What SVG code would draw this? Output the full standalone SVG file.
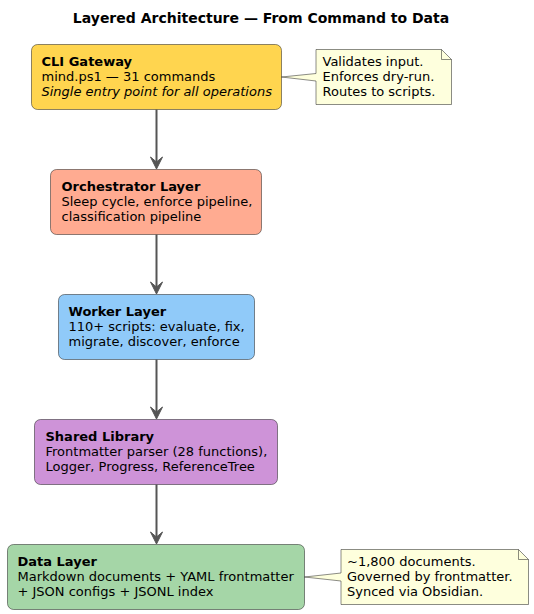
<svg xmlns="http://www.w3.org/2000/svg" width="534" height="614" viewBox="0 0 534 614">
<style>
text{font-family:"DejaVu Sans","Liberation Sans",sans-serif;font-size:13px;fill:#000}
.title{font-size:14px;font-weight:bold}
.b{font-weight:bold}
.i{font-style:italic}
.box{stroke:#181818;stroke-width:0.5}
.note{fill:#FEFFDD;stroke:#181818;stroke-width:0.5}
.fold{fill:none;stroke:#181818;stroke-width:0.5}
.edge{stroke:#555555;stroke-width:2;fill:none}
.head{fill:#555555;stroke:#555555;stroke-width:1}
</style>
<rect width="534" height="614" fill="#FFFFFF"/>
<text class="title" x="261" y="23" text-anchor="middle">Layered Architecture — From Command to Data</text>

<g id="connectors">
<line class="edge" x1="156.5" y1="109.5" x2="156.5" y2="163"/>
<polygon class="head" points="150.5,157 156.5,169 162.5,157 156.5,162"/>
<line class="edge" x1="156.5" y1="234.5" x2="156.5" y2="288"/>
<polygon class="head" points="150.5,282 156.5,294 162.5,282 156.5,287"/>
<line class="edge" x1="156.5" y1="359.5" x2="156.5" y2="413"/>
<polygon class="head" points="150.5,407 156.5,419 162.5,407 156.5,412"/>
<line class="edge" x1="156.5" y1="484.5" x2="156.5" y2="538"/>
<polygon class="head" points="150.5,532 156.5,544 162.5,532 156.5,537"/>
</g>

<g id="cli">
<rect class="box" x="31.5" y="44.5" width="250" height="65" rx="6" fill="#FFD54F"/>
<text x="41.5" y="66" class="b">CLI Gateway</text>
<text x="41.5" y="81">mind.ps1 — 31 commands</text>
<text x="41.5" y="96" class="i">Single entry point for all operations</text>
</g>

<g id="note-cli">
<path class="note" d="M316,49.5 L441.5,49.5 L451.5,59.5 L451.5,104.5 L316,104.5 L316,81 L281.5,77 L316,73.5 Z"/>
<path class="fold" d="M441.5,49.5 L441.5,59.5 L451.5,59.5"/>
<text x="322.5" y="66">Validates input.</text>
<text x="322.5" y="81">Enforces dry-run.</text>
<text x="322.5" y="96">Routes to scripts.</text>
</g>

<g id="orchestrator">
<rect class="box" x="50.5" y="169.5" width="211" height="65" rx="6" fill="#FFAB91"/>
<text x="61.5" y="191" class="b">Orchestrator Layer</text>
<text x="61.5" y="206">Sleep cycle, enforce pipeline,</text>
<text x="61.5" y="221">classification pipeline</text>
</g>

<g id="worker">
<rect class="box" x="58.5" y="294.5" width="196" height="65" rx="6" fill="#90CAF9"/>
<text x="68.5" y="316" class="b">Worker Layer</text>
<text x="68.5" y="331">110+ scripts: evaluate, fix,</text>
<text x="68.5" y="346">migrate, discover, enforce</text>
</g>

<g id="shared">
<rect class="box" x="34.5" y="419.5" width="243" height="65" rx="6" fill="#CE93D8"/>
<text x="45.5" y="441" class="b">Shared Library</text>
<text x="45.5" y="456">Frontmatter parser (28 functions),</text>
<text x="45.5" y="471">Logger, Progress, ReferenceTree</text>
</g>

<g id="data">
<rect class="box" x="7.5" y="544.5" width="297" height="65" rx="6" fill="#A5D6A7"/>
<text x="17.5" y="566" class="b">Data Layer</text>
<text x="17.5" y="581">Markdown documents + YAML frontmatter</text>
<text x="17.5" y="596">+ JSON configs + JSONL index</text>
</g>

<g id="note-data">
<path class="note" d="M341,549.5 L518.5,549.5 L528.5,559.5 L528.5,604.5 L341,604.5 L341,581 L304.5,577 L341,573 Z"/>
<path class="fold" d="M518.5,549.5 L518.5,559.5 L528.5,559.5"/>
<text x="347" y="566">~1,800 documents.</text>
<text x="347" y="581">Governed by frontmatter.</text>
<text x="347" y="596">Synced via Obsidian.</text>
</g>
</svg>
